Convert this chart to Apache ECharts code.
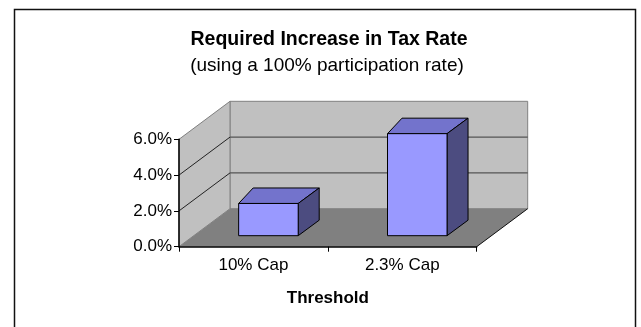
<!DOCTYPE html>
<html>
<head>
<meta charset="utf-8">
<script src="https://cdn.jsdelivr.net/npm/echarts@6/dist/echarts.min.js"></script>
<style>
  html, body { margin: 0; padding: 0; background: #fff; }
  #chart { width: 641px; height: 327px; }
</style>
</head>
<body>
<div id="chart"></div>
<script>
// Chart data
const categories = ['10% Cap', '2.3% Cap'];
const increaseValues = [0.018, 0.057];
const yTicks = [0, 0.02, 0.04, 0.06];
const titleText = 'Required Increase in Tax Rate';
const subtitleText = '(using a 100% participation rate)';
const axisTitle = 'Threshold';

const FONT = '"Liberation Sans", Arial, sans-serif';
const yMin = yTicks[0];
const yMax = yTicks[yTicks.length - 1];

// Oblique depth of the 3D box (pixels) and of the bars inside it
const DEPTH = [51, -38];
const BAR_FRONT = [15, -11];
const BAR_BACK_L = [14.5, -15.5];
const BAR_BACK_R = [21, -15.5];

function shift(p, d) { return [p[0] + d[0], p[1] + d[1]]; }

// Walls, floor and gridlines of the 3D plot area
function renderRoom(params, api) {
  const cs = params.coordSys;
  const L = cs.x, R = cs.x + cs.width;
  const top = api.coord([0, yMax])[1];
  const bot = api.coord([0, yMin])[1];
  const children = [];
  const wallStyle = { fill: '#C0C0C0', stroke: '#808080', lineWidth: 1 };
  // back wall
  children.push({ type: 'polygon', shape: { points: [
    shift([L, top], DEPTH), shift([R, top], DEPTH), shift([R, bot], DEPTH), shift([L, bot], DEPTH)
  ] }, style: wallStyle });
  // side wall
  children.push({ type: 'polygon', shape: { points: [
    [L, top], shift([L, top], DEPTH), shift([L, bot], DEPTH), [L, bot]
  ] }, style: wallStyle });
  // floor
  children.push({ type: 'polygon', shape: { points: [
    [L, bot], [R, bot], shift([R, bot], DEPTH), shift([L, bot], DEPTH)
  ] }, style: { fill: '#808080' } });
  // gridlines on back and side walls
  yTicks.forEach(function (t) {
    if (t === yMin || t === yMax) return;
    const y = api.coord([0, t])[1];
    children.push({ type: 'line', shape: { x1: L + DEPTH[0], y1: y + DEPTH[1], x2: R + DEPTH[0], y2: y + DEPTH[1] },
      style: { stroke: '#555555', lineWidth: 1.2 } });
    children.push({ type: 'line', shape: { x1: L, y1: y, x2: L + DEPTH[0], y2: y + DEPTH[1] },
      style: { stroke: '#222222', lineWidth: 1 } });
  });
  // right edge of the floor
  children.push({ type: 'line', shape: { x1: R, y1: bot, x2: R + DEPTH[0], y2: bot + DEPTH[1] },
    style: { stroke: '#111111', lineWidth: 1 } });
  return { type: 'group', children: children };
}

// Bars drawn as boxes: front, top and side faces
function renderBar(params, api) {
  const idx = api.value(0);
  const base = api.coord([idx, yMin]);
  const head = api.coord([idx, api.value(1)]);
  const w = api.size([1, 0])[0] * 0.4;
  const x1 = base[0] - w / 2 + BAR_FRONT[0];
  const x2 = base[0] + w / 2 + BAR_FRONT[0];
  const yb = base[1] + BAR_FRONT[1];
  const yt = head[1] + BAR_FRONT[1];
  const edge = { stroke: '#000000', lineWidth: 1, lineJoin: 'round' };
  return { type: 'group', children: [
    { type: 'polygon', shape: { points: [[x1, yt], [x2, yt], shift([x2, yt], BAR_BACK_R), shift([x1, yt], BAR_BACK_L)] },
      style: Object.assign({ fill: '#7373CC' }, edge) },
    { type: 'polygon', shape: { points: [[x2, yt], shift([x2, yt], BAR_BACK_R), shift([x2, yb], BAR_BACK_R), [x2, yb]] },
      style: Object.assign({ fill: '#4C4C80' }, edge) },
    { type: 'polygon', shape: { points: [[x1, yt], [x2, yt], [x2, yb], [x1, yb]] },
      style: Object.assign({ fill: '#9999FF' }, edge) }
  ] };
}

const chart = echarts.init(document.getElementById('chart'), null, { renderer: 'canvas' });

chart.setOption({
  backgroundColor: '#ffffff',
  animation: false,
  graphic: [
    { type: 'rect', shape: { x: 14.5, y: 9.5, width: 621, height: 340 },
      style: { fill: 'none', stroke: '#111111', lineWidth: 1.5 }, z: 100 },
    { type: 'text', x: 329, y: 40, style: { text: titleText, align: 'center', verticalAlign: 'middle',
      font: 'bold 19.5px ' + FONT, fill: '#000' } },
    { type: 'text', x: 327, y: 66, style: { text: subtitleText, align: 'center', verticalAlign: 'middle',
      font: '19px ' + FONT, fill: '#000' } }
  ],
  grid: { left: 179, top: 139.3, width: 297.7, height: 107.4, containLabel: false },
  xAxis: {
    type: 'category',
    data: categories,
    z: 5,
    name: axisTitle,
    nameLocation: 'middle',
    nameGap: 43,
    nameTextStyle: { fontFamily: FONT, fontSize: 17, fontWeight: 'bold', color: '#000' },
    axisLine: { lineStyle: { color: '#000', width: 1.5 } },
    axisTick: { show: true, length: 5, alignWithLabel: false, lineStyle: { color: '#000' } },
    axisLabel: { margin: 10, fontFamily: FONT, fontSize: 17, color: '#000' },
    splitLine: { show: false }
  },
  yAxis: {
    type: 'value',
    min: yMin,
    max: yMax,
    interval: 0.02,
    z: 5,
    axisLine: { show: true, lineStyle: { color: '#000', width: 1.5 } },
    axisTick: { show: true, length: 5, lineStyle: { color: '#000' } },
    axisLabel: { margin: 7, fontFamily: FONT, fontSize: 17, color: '#000',
      formatter: function (v) { return (v * 100).toFixed(1) + '%'; } },
    splitLine: { show: false }
  },
  series: [
    { type: 'custom', name: 'room', data: [[0, 0]], renderItem: renderRoom, silent: true, clip: false, z: 1 },
    { type: 'custom', name: 'Required increase', data: increaseValues.map(function (v, i) { return [i, v]; }),
      renderItem: renderBar, clip: false, z: 3 }
  ]
});
</script>
</body>
</html>
